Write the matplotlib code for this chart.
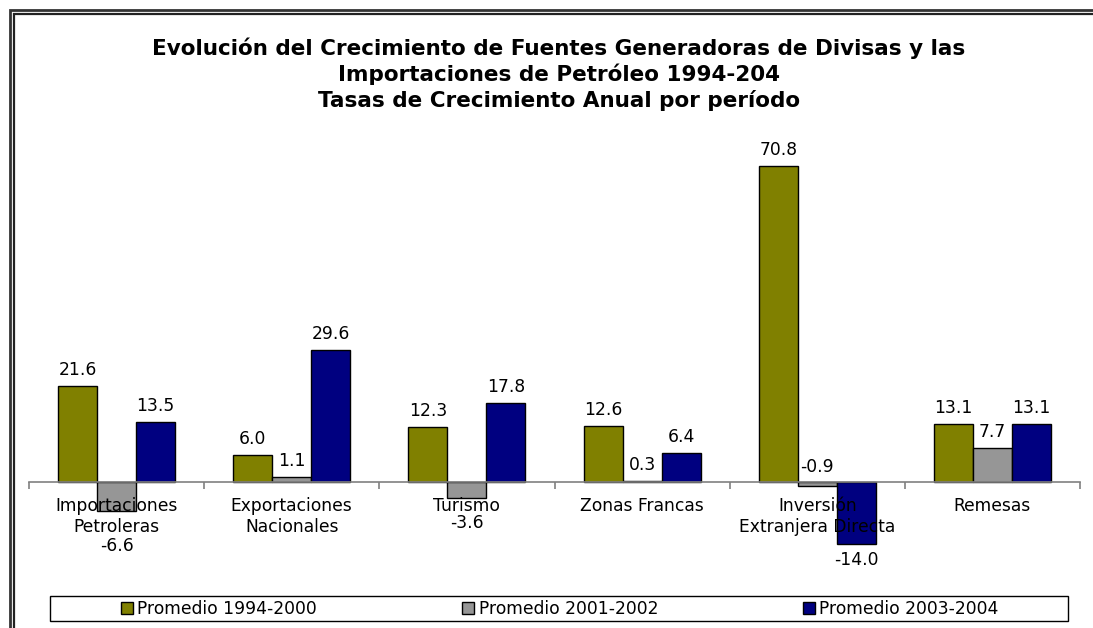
import matplotlib
matplotlib.use("Agg")
import matplotlib.pyplot as plt
from matplotlib.patches import Rectangle
import numpy as np

plt.rcParams['font.family'] = ['DejaVu Sans']

categories = ["Importaciones\nPetroleras", "Exportaciones\nNacionales", "Turismo",
              "Zonas Francas", "Inversión\nExtranjera Directa", "Remesas"]
series_names = ["Promedio 1994-2000", "Promedio 2001-2002", "Promedio 2003-2004"]
p1994_2000 = [21.6, 6.0, 12.3, 12.6, 70.8, 13.1]
p2001_2002 = [-6.6, 1.1, -3.6, 0.3, -0.9, 7.7]
p2003_2004 = [13.5, 29.6, 17.8, 6.4, -14.0, 13.1]
colors = ["#808000", "#969696", "#000080"]
title = ("Evolución del Crecimiento de Fuentes Generadoras de Divisas y las\n"
         "Importaciones de Petróleo 1994-204\n"
         "Tasas de Crecimiento Anual por período")

FS = 12.3
# label offsets in points (default +/-11.5 pt beyond bar end), special cases
special_offsets = {(1, 0): -25, (1, 2): -18, (1, 4): 13.5}

W, H = 1093, 628
fig = plt.figure(figsize=(W / 100, H / 100), dpi=100)

def fx(x):
    return x / W

def fy(y):
    return 1 - y / H

ax = fig.add_axes([fx(29), fy(548.9), fx(1080) - fx(29), fy(147.3) - fy(548.9)])
ax.set_xlim(-0.5, 5.5)
ax.set_ylim(-15, 75)
ax.set_axisbelow(False)

n = len(categories)
x = np.arange(n)
w = 39 / 175
series = [p1994_2000, p2001_2002, p2003_2004]
for s, (vals, col, name) in enumerate(zip(series, colors, series_names)):
    xs = x + (s - 1) * w
    ax.bar(xs, vals, width=w, color=col, edgecolor="black", linewidth=1.0,
           label=name, zorder=2)
    for i, (xx, v) in enumerate(zip(xs, vals)):
        off = special_offsets.get((s, i), 11.5 if v >= 0 else -11.5)
        ax.annotate(f"{v:.1f}", (xx, v), xytext=(0, off), textcoords="offset points",
                    ha="center", va="center", fontsize=FS, color="black", zorder=5)

for sp in ["top", "right", "left"]:
    ax.spines[sp].set_visible(False)
ax.spines["bottom"].set_position(("data", 0))
ax.spines["bottom"].set_color("#808080")
ax.spines["bottom"].set_linewidth(1.2)
ax.spines["bottom"].set_zorder(3)
ax.set_yticks([])
ax.set_xticks(x)
ax.set_xticklabels(categories, fontsize=FS, linespacing=1.2)
ax.tick_params(axis="x", which="major", length=0, pad=11)
ax.set_xticks(np.arange(-0.5, n, 1.0), minor=True)
ax.tick_params(axis="x", which="minor", length=5, color="#808080", width=1.2)
ax.patch.set_visible(False)

fig.text(fx(559), fy(74), title, ha="center", va="center", fontsize=15.5,
         fontweight="bold", linespacing=1.27)

# legend
handles, labels = ax.get_legend_handles_labels()
leg = fig.legend(handles, labels, loc="center", bbox_to_anchor=(fx(560), fy(608.5)),
                 ncol=3, frameon=False, fontsize=FS, handlelength=0.7, handleheight=0.7,
                 handletextpad=0.25, columnspacing=8.5, borderaxespad=0)
fig.patches.append(Rectangle((fx(50), fy(621)), fx(1068) - fx(50), fy(596) - fy(621),
                             transform=fig.transFigure, fill=False, edgecolor="black",
                             linewidth=1.0))

# outer double frame
for off, lw, c in [(10, 2.0, "#333333"), (13.5, 1.6, "#222222")]:
    fig.patches.append(Rectangle((fx(off), fy(H + 20)), fx(W + 20) - fx(off), fy(off) - fy(H + 20),
                                 transform=fig.transFigure, fill=False, edgecolor=c,
                                 linewidth=lw, clip_on=False))

fig.savefig("out.png", dpi=100)
